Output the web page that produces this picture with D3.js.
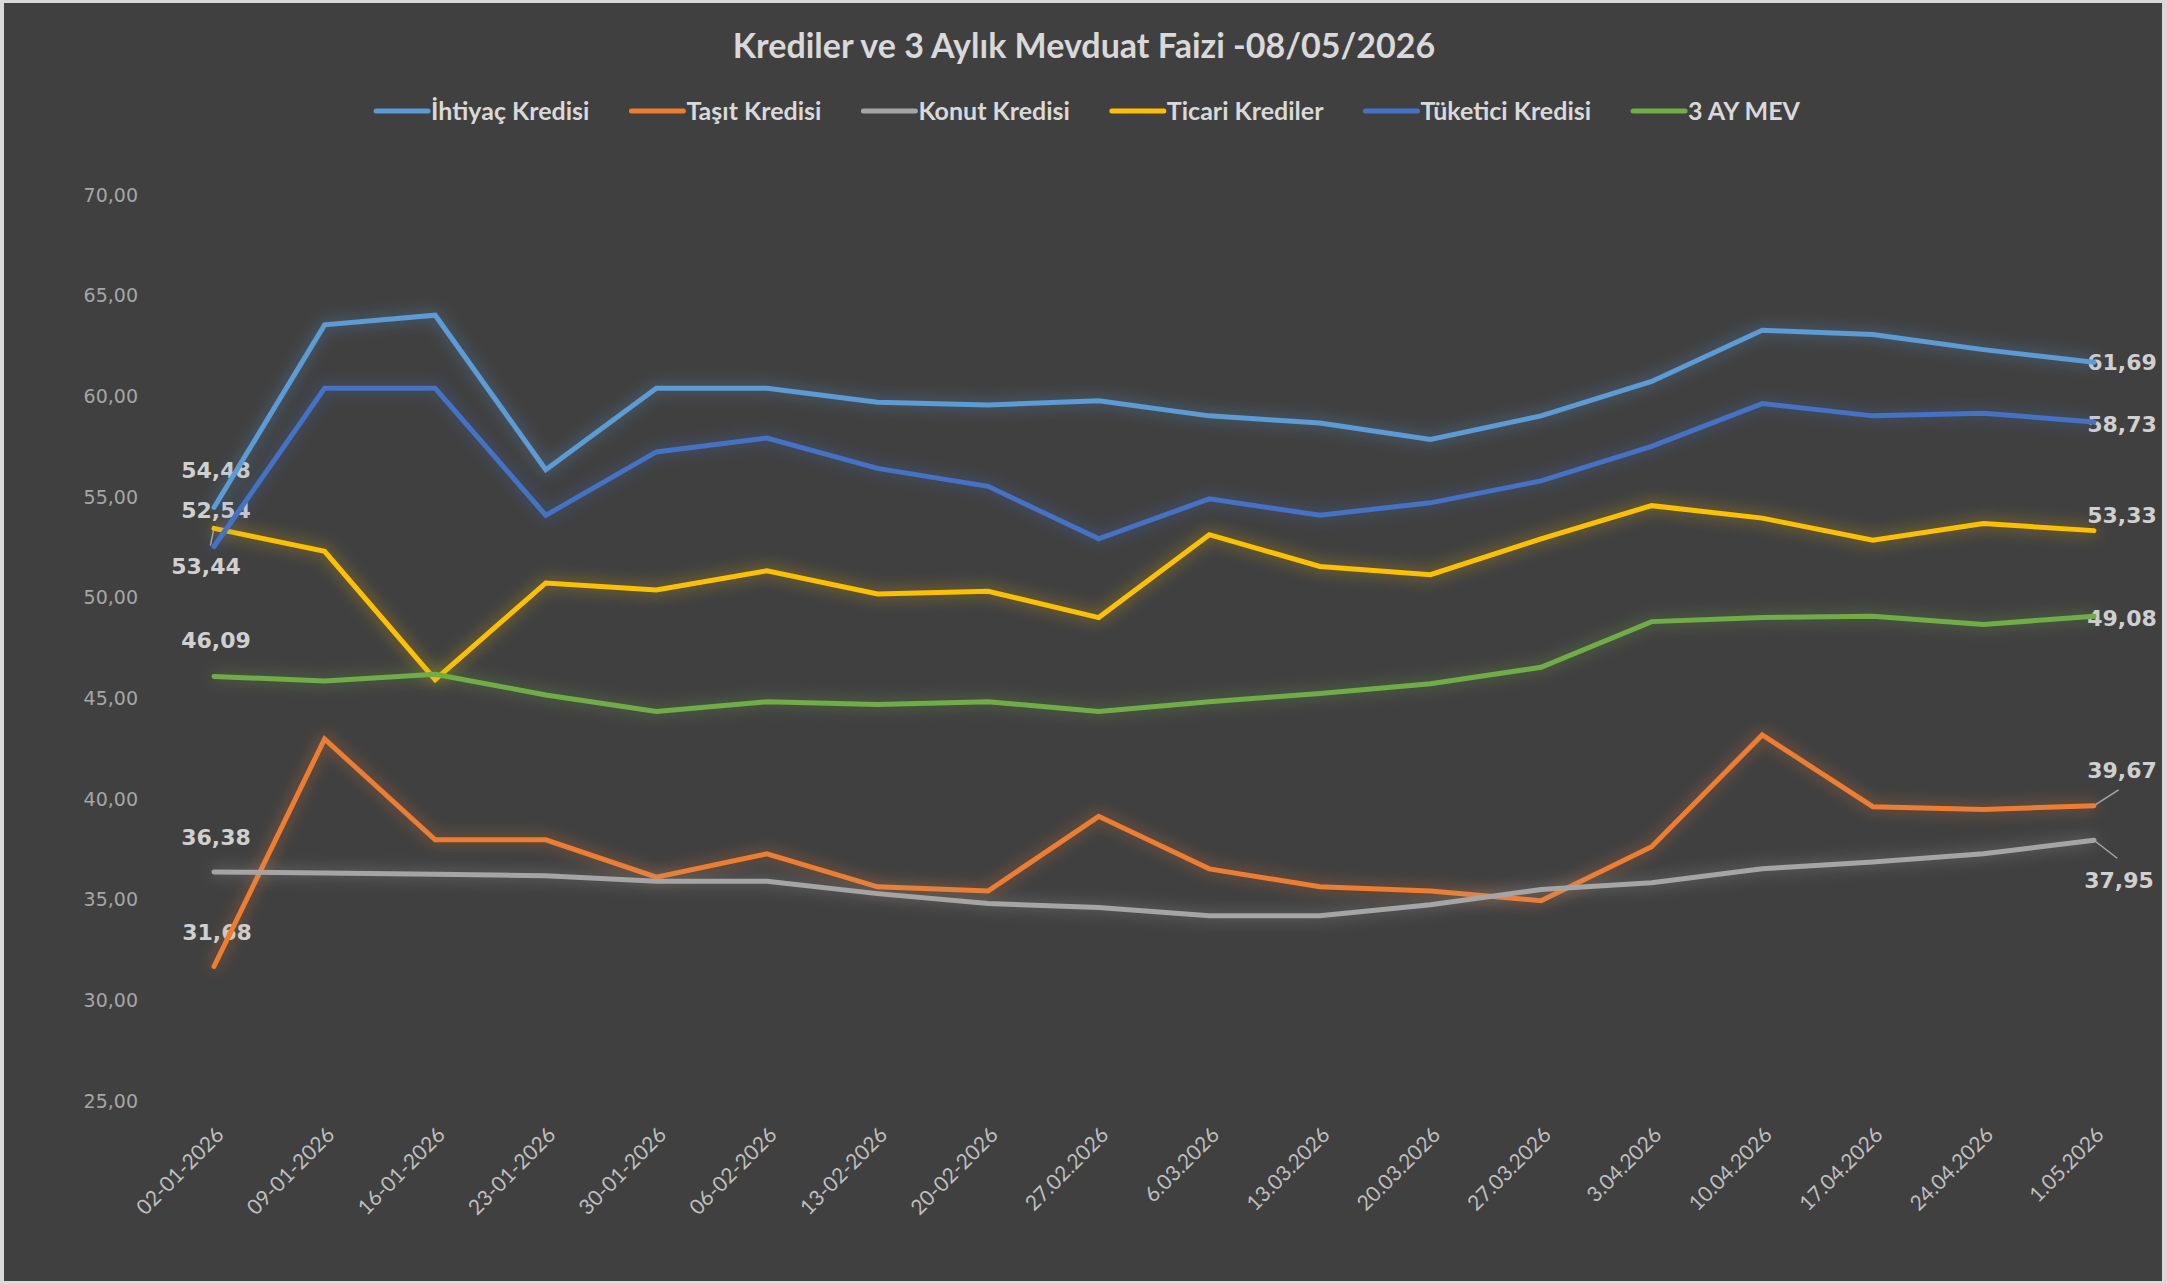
<!DOCTYPE html>
<html>
<head>
<meta charset="utf-8">
<script src="https://cdn.jsdelivr.net/npm/d3@7"></script>
<style>
  body { margin: 0; background: #d9d9d9; }
  svg { display: block; }
</style>
</head>
<body>
<div id="chart"></div>
<script>
// Chart data
const dates = ["02-01-2026", "09-01-2026", "16-01-2026", "23-01-2026", "30-01-2026", "06-02-2026",
  "13-02-2026", "20-02-2026", "27.02.2026", "6.03.2026", "13.03.2026", "20.03.2026",
  "27.03.2026", "3.04.2026", "10.04.2026", "17.04.2026", "24.04.2026", "1.05.2026"];

const ihtiyac = [54.48, 63.55, 64.03, 56.35, 60.40, 60.40, 59.71, 59.57, 59.78, 59.03, 58.68, 57.86, 59.03, 60.74, 63.28, 63.07, 62.32, 61.69];
const tasit = [31.68, 42.98, 37.97, 37.97, 36.12, 37.28, 35.64, 35.43, 39.14, 36.53, 35.64, 35.43, 34.95, 37.63, 43.18, 39.62, 39.48, 39.67];
const konut = [36.38, 36.32, 36.26, 36.19, 35.91, 35.91, 35.30, 34.81, 34.61, 34.20, 34.20, 34.75, 35.50, 35.84, 36.53, 36.87, 37.28, 37.95];
const ticari = [53.44, 52.30, 45.93, 50.73, 50.38, 51.34, 50.18, 50.32, 49.01, 53.13, 51.55, 51.14, 52.92, 54.57, 53.95, 52.85, 53.68, 53.33];
const tuketici = [52.54, 60.40, 60.40, 54.09, 57.24, 57.93, 56.42, 55.53, 52.92, 54.91, 54.09, 54.71, 55.80, 57.52, 59.64, 59.03, 59.16, 58.73];
const mev3 = [46.09, 45.86, 46.20, 45.17, 44.35, 44.83, 44.69, 44.83, 44.35, 44.83, 45.24, 45.72, 46.54, 48.81, 49.01, 49.08, 48.67, 49.08];

const seriesNames = ["İhtiyaç Kredisi", "Taşıt Kredisi", "Konut Kredisi", "Ticari Krediler", "Tüketici Kredisi", "3 AY MEV"];
const seriesValues = [ihtiyac, tasit, konut, ticari, tuketici, mev3];
const seriesColors = ["#5b9bd5", "#ed7d31", "#a5a5a5", "#ffc000", "#4472c4", "#70ad47"];

const yTicks = [25, 30, 35, 40, 45, 50, 55, 60, 65, 70];

// label placement for first / last point: [dx, dy, leader]
const firstLabelPos = [[2, -37], [3, -34], [2, -35], [-8, 38, true], [2, -36], [2, -36]];
const lastLabelPos = [[28, 0], [28, -35, true], [25, 40, true], [28, -15], [28, 2], [28, 2]];

const W = 2167, H = 1284;
const fmt = d3.formatLocale({ decimal: ",", thousands: ".", grouping: [3], currency: ["", ""] }).format(".2f");

const svg = d3.select("#chart").append("svg")
  .attr("width", W)
  .attr("height", H);

// outer border + dark background
svg.append("rect").attr("width", W).attr("height", H).attr("fill", "#d9d9d9");
svg.append("rect").attr("x", 4).attr("y", 3).attr("width", W - 9).attr("height", H - 6).attr("fill", "#404040");

// glow filter
const defs = svg.append("defs");
const glow = defs.append("filter").attr("id", "glow")
  .attr("x", "-10%").attr("y", "-40%").attr("width", "120%").attr("height", "180%");
glow.append("feGaussianBlur").attr("in", "SourceGraphic").attr("stdDeviation", 8).attr("result", "blur");
glow.append("feComponentTransfer").attr("in", "blur").attr("result", "soft")
  .append("feFuncA").attr("type", "linear").attr("slope", 0.6);
const merge = glow.append("feMerge");
merge.append("feMergeNode").attr("in", "soft");
merge.append("feMergeNode").attr("in", "SourceGraphic");

// Scales
const x = d3.scalePoint().domain(dates).range([214, 2094]);
const y = d3.scaleLinear().domain([25, 70]).range([1101, 195]);

// Title
svg.append("text")
  .attr("x", 1084).attr("y", 46).attr("dy", "0.35em")
  .attr("text-anchor", "middle")
  .style("font-family", "Lato, sans-serif").style("font-weight", "bold")
  .style("font-size", "34px").attr("fill", "#d9d9d9")
  .text("Krediler ve 3 Aylık Mevduat Faizi -08/05/2026");

// Legend
const legend = svg.append("g");
const legendItems = legend.selectAll("g").data(seriesNames).enter().append("g");
legendItems.append("line")
  .attr("x1", 0).attr("x2", 52).attr("y1", 0).attr("y2", 0)
  .attr("stroke", (d, i) => seriesColors[i]).attr("stroke-width", 5).attr("stroke-linecap", "round");
legendItems.append("text")
  .attr("x", 55).attr("dy", "0.35em")
  .style("font-family", "Lato, sans-serif").style("font-weight", "bold").style("font-size", "25px")
  .attr("fill", "#d9d9d9")
  .text(d => d);
let lx = 0;
const offsets = [];
legendItems.each(function () {
  offsets.push(lx);
  lx += 55 + this.querySelector("text").getComputedTextLength() + 42;
});
const legendW = lx - 42;
legendItems.attr("transform", (d, i) => `translate(${1088 - legendW / 2 + offsets[i]},111)`);

// Y axis labels
svg.append("g").selectAll("text").data(yTicks).enter().append("text")
  .attr("x", 138).attr("y", d => y(d)).attr("dy", "0.35em")
  .attr("text-anchor", "end")
  .style("font-family", "DejaVu Sans, sans-serif").style("font-size", "19px")
  .attr("fill", "#a6a6a6")
  .text(d => fmt(d));

// X axis labels
svg.append("g").selectAll("text").data(dates).enter().append("text")
  .attr("transform", d => `translate(${x(d) + 6},${y(25) + 30}) rotate(-45)`)
  .attr("text-anchor", "end").attr("dy", "0.35em")
  .style("font-family", "Lato, sans-serif").style("font-size", "21px")
  .attr("fill", "#bfbfbf")
  .text(d => d);

// Lines
const line = d3.line().x((d, i) => x(dates[i])).y(d => y(d));
const labelLayer = svg.append("g");
const lineLayer = svg.append("g");

lineLayer.selectAll("path").data(seriesValues).enter().append("path")
  .attr("d", d => line(d))
  .attr("fill", "none")
  .attr("stroke", (d, i) => seriesColors[i])
  .attr("stroke-width", 5)
  .attr("stroke-linejoin", "miter")
  .attr("stroke-linecap", "round")
  .attr("filter", "url(#glow)");

// Data labels for first and last points
seriesValues.forEach((vals, i) => {
  [[0, firstLabelPos[i]], [vals.length - 1, lastLabelPos[i]]].forEach(([k, pos]) => {
    const px = x(dates[k]), py = y(vals[k]);
    const lx2 = px + pos[0], ly = py + pos[1];
    if (pos[2]) {
      labelLayer.append("line")
        .attr("x1", px).attr("y1", py)
        .attr("x2", px + pos[0] * 0.45 + (k === 0 ? 0 : 12)).attr("y2", py + pos[1] * 0.45)
        .attr("stroke", "#a6a6a6").attr("stroke-width", 1.5);
    }
    labelLayer.append("text")
      .attr("x", lx2).attr("y", ly).attr("dy", "0.35em")
      .attr("text-anchor", "middle")
      .style("font-family", "DejaVu Sans, sans-serif").style("font-weight", "bold").style("font-size", "22px")
      .attr("fill", "#d0d0d0")
      .text(fmt(vals[k]));
  });
});
</script>
</body>
</html>
